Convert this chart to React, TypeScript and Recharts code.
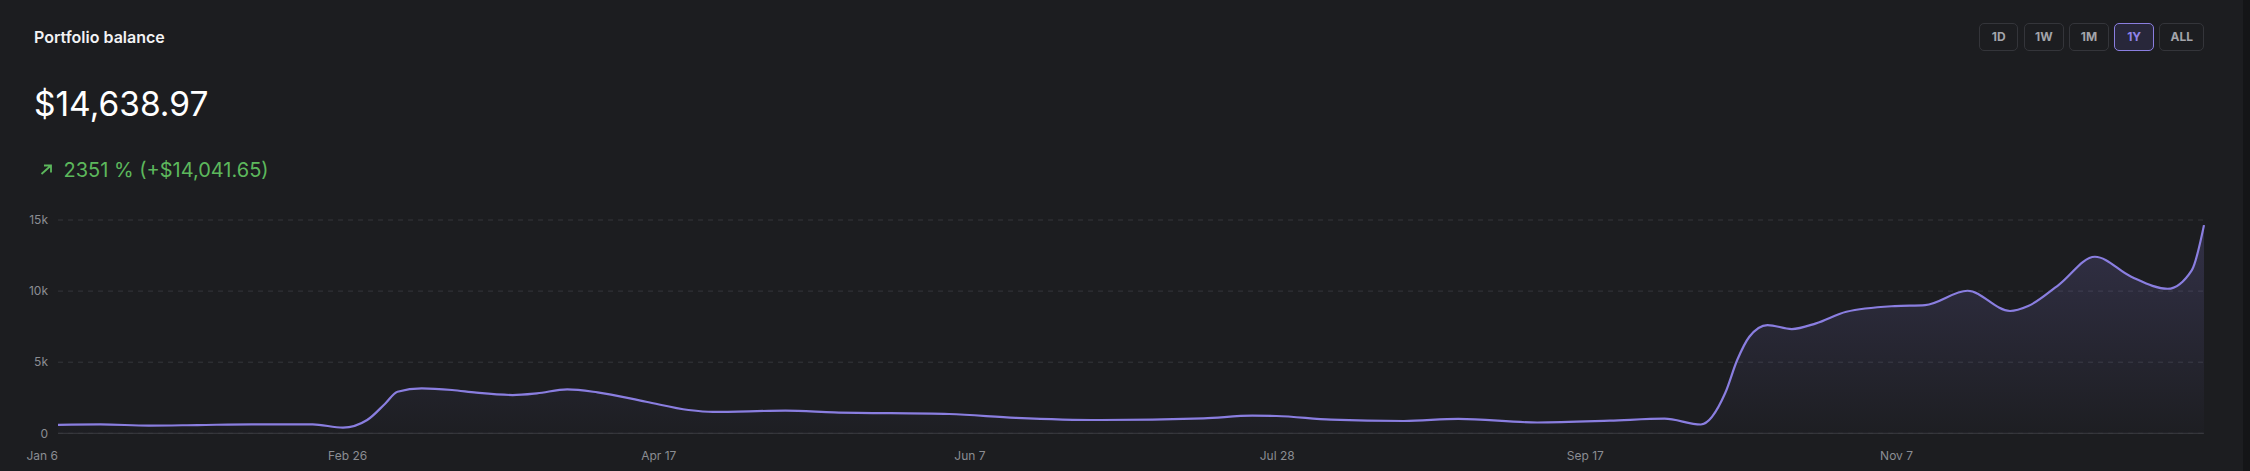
import React from "react";
import { Area, AreaChart, CartesianGrid, XAxis, YAxis } from "recharts";

const dates = [
  "2024-01-06", "2024-01-13", "2024-01-21", "2024-01-29", "2024-02-07", "2024-02-17", "2024-02-22",
  "2024-02-26", "2024-02-29", "2024-03-02", "2024-03-06", "2024-03-11", "2024-03-15", "2024-03-21",
  "2024-03-25", "2024-03-30", "2024-04-04", "2024-04-12", "2024-04-19", "2024-04-23", "2024-05-05",
  "2024-05-13", "2024-06-01", "2024-06-12", "2024-06-26", "2024-07-13", "2024-07-21", "2024-07-25",
  "2024-08-03", "2024-08-15", "2024-08-24", "2024-09-06", "2024-09-18", "2024-09-27", "2024-10-03",
  "2024-10-07", "2024-10-09", "2024-10-11", "2024-10-14", "2024-10-18", "2024-10-22", "2024-10-27",
  "2024-11-04", "2024-11-09", "2024-11-16", "2024-11-23", "2024-11-26", "2024-12-01", "2024-12-07",
  "2024-12-13", "2024-12-19", "2024-12-23", "2024-12-25",
];

const balances = [
  597.32, 630, 540, 580, 630, 630, 400,
  935, 2100, 2925, 3160, 3045, 2855, 2690,
  2810, 3093, 2880, 2220, 1640, 1500, 1590,
  1476, 1357, 1090, 935, 1054, 1237, 1216,
  960, 865, 1015, 760, 886, 1026, 620,
  2812, 5153, 6791, 7613, 7332, 7733, 8550,
  8950, 9020, 10025, 8600, 8950, 10425, 12415,
  11010, 10165, 11480, 14638.97,
];

const tickDates = ["2024-01-06", "2024-02-26", "2024-04-17", "2024-06-07", "2024-07-28", "2024-09-17", "2024-11-07"];
const yTicks = [0, 5000, 10000, 15000];
const ranges = ["1D", "1W", "1M", "1Y", "ALL"];
const activeRange = "1Y";

const monthNames = ["Jan", "Feb", "Mar", "Apr", "May", "Jun", "Jul", "Aug", "Sep", "Oct", "Nov", "Dec"];
const toDay = (s: string) => {
  const [y, m, d] = s.split("-").map(Number);
  return (Date.UTC(y, m - 1, d) - Date.UTC(2024, 0, 6)) / 86400000;
};
const dayLabel = (day: number) => {
  const dt = new Date(Date.UTC(2024, 0, 6) + day * 86400000);
  return `${monthNames[dt.getUTCMonth()]} ${dt.getUTCDate()}`;
};

const rows = dates.map((d, i) => ({ day: toDay(d), value: balances[i] }));
const xTicks = tickDates.map(toDay);

const font = "Inter, 'Noto Sans', sans-serif";
const bg = "#1c1d20";
const lineColor = "#8a7ee0";

function XTick(props: any) {
  const { x, y, payload } = props;
  return (
    <text x={x} y={y} dy="0.71em" textAnchor="end" fill="#8b8d93" fontSize={12} fontFamily={font}>
      {dayLabel(payload.value)}
    </text>
  );
}

export default function App() {
  return (
    <div style={{ position: "fixed", left: 0, top: 0, width: 2250, height: 471, background: "#141517", fontFamily: font }}>
      <div style={{ position: "absolute", left: 0, top: 0, width: 2243, height: 471, background: bg }}>
        <div style={{ position: "absolute", left: 34, top: 28.5, fontSize: 16, lineHeight: "16px", fontWeight: 600, color: "#f2f2f4" }}>
          Portfolio balance
        </div>
        <div style={{ position: "absolute", left: 34, top: 87.8, fontSize: 33.5, lineHeight: "33.5px", fontWeight: 400, color: "#ffffff" }}>
          $14,638.97
        </div>
        <svg style={{ position: "absolute", left: 0, top: 0 }} width={70} height={190}>
          <path d="M41.5 174 L51 165.5 M44 165.5 L51 165.5 L51 172.5" stroke="#5cb85c" strokeWidth={1.8} fill="none" />
        </svg>
        <div style={{ position: "absolute", left: 63.5, top: 160.4, fontSize: 20, lineHeight: "20px", color: "#5cb85c" }}>
          2351 % (+$14,041.65)
        </div>
        <div style={{ position: "absolute", right: 39, top: 23.3, display: "flex", gap: 5.6 }}>
          {ranges.map((r) => {
            const on = r === activeRange;
            return (
              <div
                key={r}
                style={{
                  boxSizing: "border-box",
                  height: 27.4,
                  minWidth: 39.5,
                  padding: "0 10px",
                  border: `1px solid ${on ? lineColor : "#34353a"}`,
                  borderRadius: 5,
                  background: on ? "#28273a" : "transparent",
                  color: on ? "#8f83ea" : "#a3a4aa",
                  fontSize: 12,
                  fontWeight: 700,
                  display: "flex",
                  alignItems: "center",
                  justifyContent: "center",
                }}
              >
                {r}
              </div>
            );
          })}
        </div>
        <div style={{ position: "absolute", left: 0, top: 210 }}>
          <AreaChart width={2243} height={261} data={rows} margin={{ top: 10, right: 39, bottom: 0, left: 0 }}>
            <defs>
              <linearGradient id="balanceFill" x1="0" y1="0" x2="0" y2="1">
                <stop offset="0%" stopColor={lineColor} stopOpacity={0.34} />
                <stop offset="100%" stopColor={lineColor} stopOpacity={0.02} />
              </linearGradient>
            </defs>
            <CartesianGrid vertical={false} strokeDasharray="5 5" stroke="#35363b" />
            <XAxis
              dataKey="day"
              type="number"
              domain={[0, 354]}
              ticks={xTicks}
              tick={<XTick />}
              tickLine={false}
              axisLine={{ stroke: "#3a3b40" }}
              tickMargin={12}
              height={37.7}
              interval={0}
            />
            <YAxis
              type="number"
              domain={[0, 15000]}
              ticks={yTicks}
              tickFormatter={(v: number) => (v === 0 ? "0" : `${v / 1000}k`)}
              tick={{ fill: "#8b8d93", fontSize: 12, fontFamily: font }}
              tickLine={false}
              axisLine={false}
              tickMargin={4}
              width={58}
            />
            <Area
              type="monotone"
              dataKey="value"
              stroke={lineColor}
              strokeWidth={2.2}
              fill="url(#balanceFill)"
              dot={false}
              activeDot={false}
              isAnimationActive={false}
            />
          </AreaChart>
        </div>
      </div>
    </div>
  );
}
